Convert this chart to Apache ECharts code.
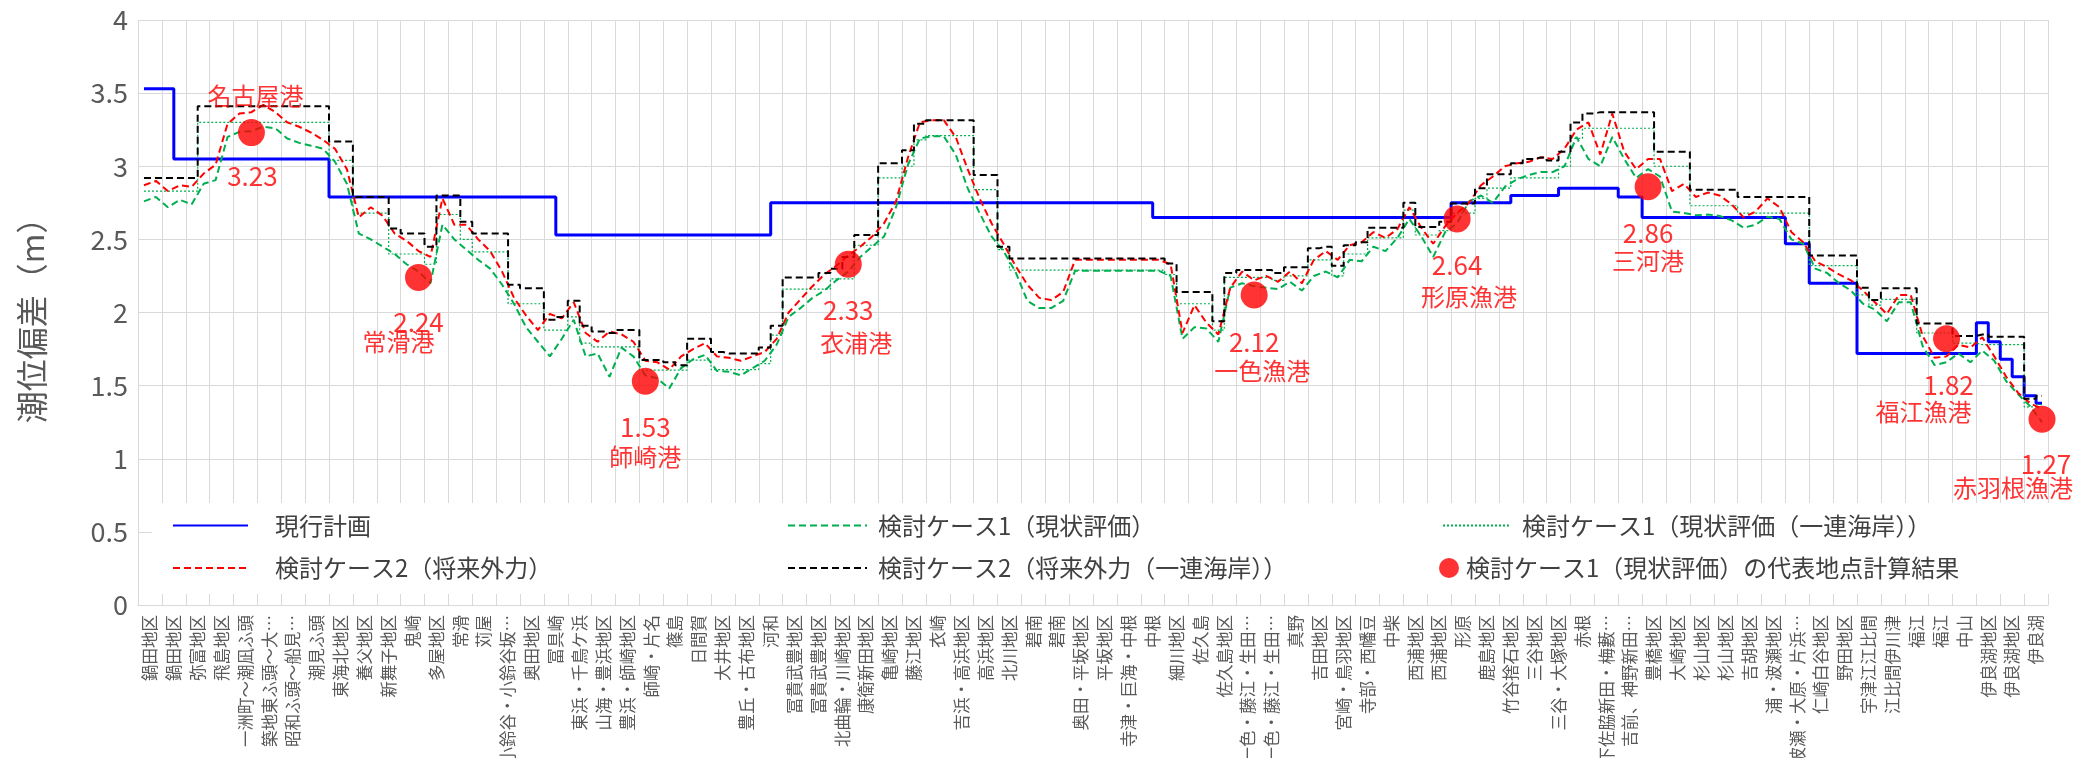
<!DOCTYPE html>
<html>
<head>
<meta charset="utf-8">
<script src="https://cdn.jsdelivr.net/npm/echarts@6/dist/echarts.min.js"></script>
<style>html,body{margin:0;padding:0;background:#fff;}#c{width:2074px;height:758px;}</style>
</head>
<body>
<div id="c"></div>
<script>
// ---- data ----
const categories = ['鍋田地区','鍋田地区','弥富地区','飛島地区','一洲町～潮凪ふ頭','築地東ふ頭～大…','昭和ふ頭～船見…','潮見ふ頭','東海北地区','養父地区','新舞子地区','鬼崎','多屋地区','常滑','苅屋','小鈴谷・小鈴谷坂…','奥田地区','冨具崎','東浜・千鳥ケ浜','山海・豊浜地区','豊浜・師崎地区','師崎・片名','篠島','日間賀','大井地区','豊丘・古布地区','河和','冨貴武豊地区','冨貴武豊地区','北曲輪・川崎地区','康衛新田地区','亀崎地区','藤江地区','衣崎','吉浜・高浜地区','高浜地区','北川地区','碧南','碧南','奥田・平坂地区','平坂地区','寺津・巨海・中根','中根','細川地区','佐久島','佐久島地区','一色・藤江・生田…','一色・藤江・生田…','真野','吉田地区','宮崎・鳥羽地区','寺部・西幡豆','中柴','西浦地区','西浦地区','形原','鹿島地区','竹谷捨石地区','三谷地区','三谷・大塚地区','赤根','下佐脇新田・梅藪…','吉前、神野新田…','豊橋地区','大崎地区','杉山地区','杉山地区','吉胡地区','浦・波瀬地区','波瀬・大原・片浜…','仁崎白谷地区','野田地区','宇津江江比間','江比間伊川津','福江','福江','中山','伊良湖地区','伊良湖地区','伊良湖'];

// two readings per category (left half, right half)
const genkouKeikaku = [3.53,3.53,3.53,3.05,3.05,3.05,3.05,3.05,3.05,3.05,3.05,3.05,3.05,3.05,3.05,3.05,
2.79,2.79,2.79,2.79,2.79,2.79,2.79,2.79,2.79,2.79,2.79,2.79,2.79,2.79,2.79,2.79,2.79,2.79,2.79,
2.53,2.53,2.53,2.53,2.53,2.53,2.53,2.53,2.53,2.53,2.53,2.53,2.53,2.53,2.53,2.53,2.53,2.53,
2.75,2.75,2.75,2.75,2.75,2.75,2.75,2.75,2.75,2.75,2.75,2.75,2.75,2.75,2.75,2.75,2.75,2.75,2.75,2.75,2.75,2.75,2.75,2.75,2.75,2.75,2.75,2.75,2.75,2.75,2.75,2.75,
2.65,2.65,2.65,2.65,2.65,2.65,2.65,2.65,2.65,2.65,2.65,2.65,2.65,2.65,2.65,2.65,2.65,2.65,2.65,2.65,2.65,2.65,2.65,2.65,2.65,
2.75,2.75,2.75,2.75,2.75,2.80,2.80,2.80,2.80,2.85,2.85,2.85,2.85,2.85,2.79,2.79,
2.65,2.65,2.65,2.65,2.65,2.65,2.65,2.65,2.65,2.65,2.65,2.65,
2.47,2.47,2.20,2.20,2.20,2.20,
1.72,1.72,1.72,1.72,1.72,1.72,1.72,1.72,1.72,1.72,
1.93,1.80,1.68,1.56,1.43,1.38];

const case1 = [2.76,2.79,2.72,2.77,2.74,2.88,2.905,3.20,3.235,3.24,3.27,3.26,3.19,3.16,3.14,3.12,3.03,2.88,2.54,2.50,
2.45,2.40,2.33,2.28,2.20,2.60,2.50,2.43,2.36,2.30,2.19,2.06,1.90,1.80,1.70,1.82,1.95,1.70,1.72,1.56,
1.76,1.70,1.57,1.55,1.48,1.62,1.68,1.71,1.60,1.595,1.57,1.62,1.67,1.78,1.97,2.03,2.10,2.15,2.22,2.28,
2.38,2.45,2.52,2.72,3.01,3.19,3.205,3.205,3.08,2.85,2.68,2.52,2.42,2.28,2.08,2.03,2.03,2.08,2.285,2.285,
2.285,2.285,2.285,2.285,2.285,2.285,2.25,1.82,1.90,1.89,1.80,2.17,2.20,2.18,2.17,2.16,2.21,2.15,2.25,2.28,
2.24,2.36,2.35,2.45,2.42,2.51,2.64,2.52,2.38,2.55,2.61,2.76,2.80,2.75,2.86,2.91,2.94,2.96,2.96,3.00,
3.20,3.05,3.00,3.20,3.05,2.92,2.98,2.93,2.69,2.68,2.665,2.67,2.66,2.63,2.58,2.60,2.655,2.64,2.50,2.47,
2.30,2.27,2.20,2.15,2.06,2.02,1.94,2.07,2.07,1.77,1.64,1.66,1.72,1.66,1.74,1.67,1.53,1.44,1.36,1.25];

const case1Rengan = [2.83,2.83,2.83,2.83,2.83,3.30,3.30,3.30,3.30,3.30,3.30,3.30,3.30,3.30,3.30,3.30,3.04,3.04,2.68,2.68,
2.68,2.40,2.40,2.40,2.33,2.67,2.67,2.50,2.415,2.415,2.415,2.06,2.06,2.06,1.88,1.88,1.97,1.79,1.765,1.765,
1.765,1.765,1.606,1.606,1.606,1.606,1.675,1.675,1.61,1.61,1.61,1.61,1.65,1.845,2.16,2.16,2.16,2.16,2.23,2.23,
2.46,2.46,2.92,2.92,3.00,3.18,3.21,3.21,3.21,3.21,2.84,2.84,2.43,2.29,2.29,2.29,2.29,2.29,2.29,2.29,
2.29,2.29,2.29,2.29,2.29,2.29,2.26,2.06,2.06,2.06,1.88,2.24,2.24,2.24,2.24,2.22,2.25,2.25,2.36,2.36,
2.25,2.40,2.40,2.51,2.51,2.51,2.70,2.53,2.53,2.56,2.68,2.68,2.78,2.85,2.85,2.92,2.92,2.92,2.92,3.00,
3.19,3.26,3.26,3.26,3.26,3.26,3.26,3.00,3.00,3.00,2.73,2.73,2.73,2.73,2.68,2.68,2.68,2.68,2.68,2.68,
2.32,2.32,2.32,2.32,2.12,2.05,2.09,2.09,2.09,1.86,1.86,1.86,1.79,1.79,1.78,1.78,1.78,1.78,1.355,1.37];

const case2 = [2.87,2.90,2.83,2.87,2.86,2.95,3.01,3.29,3.36,3.37,3.42,3.37,3.30,3.27,3.23,3.18,3.12,2.98,2.65,2.72,
2.66,2.54,2.49,2.42,2.38,2.78,2.60,2.60,2.50,2.42,2.28,2.10,1.98,1.88,1.99,1.96,2.07,1.86,1.80,1.87,
1.85,1.80,1.67,1.66,1.61,1.70,1.75,1.79,1.70,1.69,1.67,1.70,1.73,1.82,2.00,2.09,2.18,2.26,2.32,2.39,
2.45,2.52,2.61,2.76,3.06,3.30,3.315,3.315,3.20,2.98,2.78,2.61,2.47,2.32,2.19,2.10,2.085,2.14,2.36,2.36,
2.36,2.36,2.36,2.36,2.36,2.36,2.33,1.86,2.05,1.93,1.85,2.17,2.28,2.22,2.25,2.21,2.28,2.20,2.36,2.42,
2.36,2.46,2.48,2.55,2.51,2.57,2.72,2.58,2.47,2.59,2.68,2.75,2.87,2.93,3.00,3.02,3.03,3.06,3.05,3.12,
3.25,3.30,3.08,3.36,3.10,2.98,3.05,3.05,2.83,2.88,2.79,2.82,2.80,2.74,2.65,2.69,2.78,2.72,2.55,2.48,
2.35,2.31,2.26,2.22,2.15,2.07,1.99,2.12,2.12,1.84,1.69,1.70,1.78,1.76,1.83,1.70,1.56,1.45,1.38,1.34];

const case2Rengan = [2.92,2.92,2.92,2.92,2.92,3.41,3.41,3.41,3.41,3.41,3.41,3.41,3.41,3.41,3.41,3.41,3.17,3.17,2.79,2.79,
2.79,2.575,2.54,2.54,2.45,2.80,2.80,2.62,2.54,2.54,2.54,2.19,2.165,2.165,1.95,1.97,2.08,1.91,1.87,1.86,
1.88,1.88,1.675,1.675,1.66,1.64,1.82,1.82,1.73,1.72,1.72,1.72,1.76,1.91,2.24,2.24,2.24,2.27,2.30,2.38,
2.53,2.53,3.02,3.02,3.11,3.29,3.315,3.315,3.315,3.315,2.94,2.94,2.45,2.37,2.37,2.37,2.37,2.37,2.37,2.37,
2.37,2.37,2.37,2.37,2.37,2.37,2.335,2.14,2.14,2.14,1.94,2.27,2.29,2.29,2.29,2.27,2.31,2.31,2.44,2.45,
2.32,2.46,2.48,2.58,2.58,2.58,2.75,2.585,2.585,2.62,2.745,2.745,2.85,2.946,2.946,3.02,3.05,3.06,3.04,3.10,
3.30,3.36,3.37,3.37,3.37,3.37,3.37,3.10,3.10,3.10,2.84,2.84,2.84,2.84,2.79,2.79,2.79,2.79,2.79,2.79,
2.39,2.39,2.39,2.39,2.17,2.085,2.165,2.165,2.165,1.925,1.925,1.925,1.84,1.84,1.85,1.835,1.835,1.835,1.41,1.43];

// representative points (case 1)
const repNames = ['名古屋港','常滑港','師崎港','衣浦港','一色漁港','形原漁港','三河港','福江漁港','赤羽根漁港'];
const repValues = [3.23,2.24,1.53,2.33,2.12,2.64,2.86,1.82,1.27];
const repSlot = [9,23,42,59,93,110,126,151,159]; // half-category slot index

const yTicks = {min:0, max:4, step:0.5};

// ---- label placement (style only) ----
const valueOffsets = [[1,44],[0,45],[0,46],[0,46],[0,47],[0,46],[0,46],[2,46],[4,45]];
const nameOffsets  = [[4,-37],[-20,64],[0,76],[8,79],[8,76],[12,78],[0,74],[-23,73],[-29,69]];

const FONT = '"Noto Sans CJK JP","Noto Sans",sans-serif';
const names = {
  g:'現行計画', c1:'検討ケース1（現状評価）', c1r:'検討ケース1（現状評価（一連海岸））',
  c2:'検討ケース2（将来外力）', c2r:'検討ケース2（将来外力（一連海岸））', rep:'検討ケース1（現状評価）の代表地点計算結果'
};

const slots = genkouKeikaku.map((_, i) => String(i));

const chart = echarts.init(document.getElementById('c'), null, {renderer:'canvas'});
const legendText = {color:'#404040', fontSize:24, fontFamily:FONT, lineHeight:26};
const noSym = {color:'rgba(0,0,0,0)', borderWidth:0, opacity:0};
chart.setOption({
  animation:false,
  backgroundColor:'#ffffff',
  textStyle:{fontFamily:FONT},
  grid:{left:138, right:26, top:20, bottom:153, containLabel:false, outerBoundsMode:'none'},
  legend:[
    {data:[names.g, names.c2], orient:'vertical', left:152, top:503, padding:[9.5,1570,13,20],
     backgroundColor:'#ffffff', itemWidth:75, itemHeight:14, itemGap:16.5, itemStyle:noSym,
     textStyle:Object.assign({padding:[0,0,0,22]}, legendText)},
    {data:[names.c1, names.c2r], orient:'vertical', left:787, top:512.5, padding:0,
     itemWidth:79, itemHeight:14, itemGap:16.5, itemStyle:noSym,
     textStyle:Object.assign({padding:[0,0,0,6]}, legendText)},
    {data:[names.c1r], orient:'vertical', left:1442, top:512.5, padding:0,
     itemWidth:66, itemHeight:14, itemStyle:noSym,
     textStyle:Object.assign({padding:[0,0,0,8]}, legendText)},
    {data:[{name:names.rep, icon:'circle'}], orient:'vertical', left:1439, top:555, padding:0,
     itemWidth:20, itemHeight:20, textStyle:Object.assign({padding:[0,0,0,2]}, legendText)}
  ],
  xAxis:[
    {type:'category', data:categories, boundaryGap:true, position:'bottom',
     axisLine:{lineStyle:{color:'#d9d9d9', width:1}}, axisTick:{show:false},
     splitLine:{show:true, interval:0, lineStyle:{color:'#d9d9d9', width:1}},
     axisLabel:{interval:0, rotate:90, fontSize:16.5, color:'#595959', margin:10, fontFamily:FONT}},
    {type:'category', data:slots, boundaryGap:true, show:false}
  ],
  yAxis:{type:'value', min:yTicks.min, max:yTicks.max, interval:yTicks.step,
    axisLine:{show:false}, axisTick:{show:false},
    splitLine:{lineStyle:{color:'#d9d9d9', width:1}},
    axisLabel:{fontSize:27, color:'#595959', margin:10, fontFamily:FONT},
    name:'潮位偏差（m）', nameLocation:'middle', nameGap:90, nameRotate:90,
    nameTextStyle:{fontSize:32, color:'#595959', fontFamily:FONT}},
  series:[
    {name:names.g, type:'line', xAxisIndex:1, data:genkouKeikaku, step:'middle', symbol:'none',
     lineStyle:{color:'#0000FF', width:3}, itemStyle:{color:'#0000FF'}, z:3},
    {name:names.c1, type:'line', xAxisIndex:1, data:case1, symbol:'none',
     lineStyle:{color:'#00B050', width:2, type:[7,4]}, itemStyle:{color:'#00B050'}, z:3},
    {name:names.c1r, type:'line', xAxisIndex:1, data:case1Rengan, step:'middle', symbol:'none',
     lineStyle:{color:'#00B050', width:1.2, type:[2,2]}, itemStyle:{color:'#00B050'}, z:3},
    {name:names.c2, type:'line', xAxisIndex:1, data:case2, symbol:'none',
     lineStyle:{color:'#FF0000', width:2, type:[7,4]}, itemStyle:{color:'#FF0000'}, z:3},
    {name:names.c2r, type:'line', xAxisIndex:1, data:case2Rengan, step:'middle', symbol:'none',
     lineStyle:{color:'#000000', width:2, type:[7,4]}, itemStyle:{color:'#000000'}, z:3},
    {name:names.rep, type:'scatter', xAxisIndex:1, symbol:'circle', symbolSize:27,
     itemStyle:{color:'#FF0000'}, z:5,
     data:repValues.map((v,i)=>({value:[repSlot[i], v],
       label:{show:true, position:'inside', offset:valueOffsets[i], formatter:String(v.toFixed(2)),
         color:'#FF0000', fontSize:26, fontFamily:FONT}}))},
    {name:'repNames', type:'scatter', xAxisIndex:1, symbol:'circle', symbolSize:2,
     itemStyle:{color:'rgba(0,0,0,0)'}, z:6, silent:true,
     data:repValues.map((v,i)=>({value:[repSlot[i], v],
       label:{show:true, position:'inside', offset:nameOffsets[i], formatter:repNames[i],
         color:'#FF0000', fontSize:24, fontFamily:FONT}}))}
  ]
});
</script>
</body>
</html>
